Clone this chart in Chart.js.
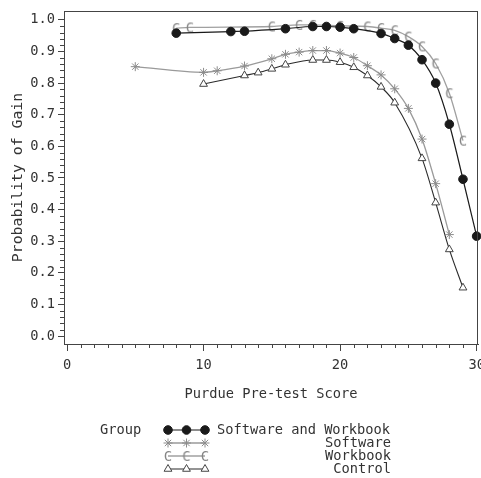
<!DOCTYPE html>
<html>
<head>
<meta charset="utf-8">
<script src="https://cdn.jsdelivr.net/npm/chart.js@4/dist/chart.umd.min.js"></script>
<style>
  body { margin: 0; background: #fff; }
  #wrap { width: 481px; height: 478px; }
</style>
</head>
<body>
<div id="wrap"><canvas id="myChart" width="481" height="478"></canvas></div>
<script>
// values
var groupNames = ["Software and Workbook", "Software", "Workbook", "Control"];

var swwX = [8, 12, 13, 16, 18, 19, 20, 21, 23, 24, 25, 26, 27, 28, 29, 30];
var swwY = [0.958, 0.963, 0.964, 0.972, 0.979, 0.979, 0.977, 0.972, 0.957, 0.941, 0.920, 0.874, 0.800, 0.670, 0.496, 0.316];

var swX = [5, 10, 11, 13, 15, 16, 17, 18, 19, 20, 21, 22, 23, 24, 25, 26, 27, 28];
var swY = [0.852, 0.834, 0.839, 0.854, 0.877, 0.891, 0.898, 0.903, 0.903, 0.895, 0.881, 0.855, 0.826, 0.782, 0.720, 0.623, 0.482, 0.321];

var wbX = [8, 9, 15, 17, 18, 20, 22, 23, 24, 25, 26, 27, 28, 29];
var wbY = [0.974, 0.976, 0.979, 0.984, 0.984, 0.981, 0.979, 0.974, 0.967, 0.947, 0.916, 0.862, 0.768, 0.618];

var ctX = [10, 13, 14, 15, 16, 18, 19, 20, 21, 22, 23, 24, 26, 27, 28, 29];
var ctY = [0.797, 0.824, 0.833, 0.845, 0.858, 0.873, 0.873, 0.866, 0.850, 0.824, 0.788, 0.738, 0.562, 0.422, 0.274, 0.153];

var xTicks = [0, 10, 20, 30];
var yTicks = [0, 0.1, 0.2, 0.3, 0.4, 0.5, 0.6, 0.7, 0.8, 0.9, 1.0];

var FONT = '"DejaVu Sans Mono", "Liberation Mono", monospace';
var TXT = '#333';
var AXIS = '#444';

// pairs x and y arrays into points
function pts(xs, ys) {
    var out = [];
    for (var i = 0; i < xs.length; i++) {
        out.push({ x: xs[i], y: ys[i] });
    }
    return out;
}

// the "C" plot symbol used for the Workbook group
var cMark = document.createElement('canvas');
cMark.width = 12;
cMark.height = 14;
var cc = cMark.getContext('2d');
cc.font = '14px ' + FONT;
cc.fillStyle = '#858585';
cc.textAlign = 'center';
cc.textBaseline = 'middle';
cc.fillText('C', 6, 8.5);

// frame, minor ticks and the group legend
var extras = {
    id: 'extras',
    afterDraw: function (chart) {
        var ctx = chart.ctx;
        var a = chart.chartArea;
        var xs = chart.scales.x, ys = chart.scales.y;
        ctx.save();
        ctx.strokeStyle = AXIS;
        ctx.lineWidth = 1;
        ctx.strokeRect(a.left + 0.5, a.top + 0.5, a.right - a.left - 1, a.bottom - a.top);
        // minor ticks
        ctx.beginPath();
        for (var i = 0; i <= 30; i++) {
            if (i % 10 == 0) continue;
            var px = Math.round(xs.getPixelForValue(i)) + 0.5;
            ctx.moveTo(px, a.bottom);
            ctx.lineTo(px, a.bottom + 4);
        }
        for (var j = 0; j <= 50; j++) {
            if (j % 5 == 0) continue;
            var py = Math.round(ys.getPixelForValue(j / 50)) + 0.5;
            ctx.moveTo(a.left, py);
            ctx.lineTo(a.left - 4, py);
        }
        ctx.stroke();

        // legend
        var rows = [430, 443, 456, 469];
        ctx.font = '13.7px ' + FONT;
        ctx.fillStyle = TXT;
        ctx.textBaseline = 'middle';
        ctx.textAlign = 'left';
        ctx.fillText('Group', 100, rows[0]);
        chart.data.datasets.forEach(function (ds, k) {
            var y = rows[k];
            ctx.strokeStyle = ds.borderColor;
            ctx.lineWidth = ds.borderWidth;
            ctx.beginPath();
            ctx.moveTo(168, y);
            ctx.lineTo(205, y);
            ctx.stroke();
            [168, 186.5, 205].forEach(function (mx) {
                ctx.fillStyle = ds.pointBackgroundColor;
                ctx.strokeStyle = ds.pointBorderColor;
                ctx.lineWidth = ds.pointBorderWidth;
                Chart.helpers.drawPoint(ctx, {
                    pointStyle: ds.pointStyle, radius: ds.pointRadius,
                    rotation: 0, borderWidth: ds.pointBorderWidth
                }, mx, y);
            });
            ctx.fillStyle = TXT;
            if (k == 0) {
                ctx.textAlign = 'left';
                ctx.fillText(ds.label, 217, y);
            } else {
                ctx.textAlign = 'right';
                ctx.fillText(ds.label, 391, y);
            }
        });
        ctx.restore();
    }
};

const data = {
    datasets: [{
        label: groupNames[0],
        data: pts(swwX, swwY),
        borderColor: '#1a1a1a',
        borderWidth: 1.2,
        pointStyle: 'circle',
        pointRadius: 4.3,
        pointBackgroundColor: '#1a1a1a',
        pointBorderColor: '#1a1a1a',
        pointBorderWidth: 1
    }, {
        label: groupNames[1],
        data: pts(swX, swY),
        borderColor: '#9a9a9a',
        borderWidth: 1.3,
        pointStyle: 'star',
        pointRadius: 4.5,
        pointBackgroundColor: '#8c8c8c',
        pointBorderColor: '#8c8c8c',
        pointBorderWidth: 1
    }, {
        label: groupNames[2],
        data: pts(wbX, wbY),
        borderColor: '#a0a0a0',
        borderWidth: 1.3,
        pointStyle: cMark,
        pointRadius: 5,
        pointBackgroundColor: '#8c8c8c',
        pointBorderColor: '#8c8c8c',
        pointBorderWidth: 1
    }, {
        label: groupNames[3],
        data: pts(ctX, ctY),
        borderColor: '#2a2a2a',
        borderWidth: 1.1,
        pointStyle: 'triangle',
        pointRadius: 4.5,
        pointBackgroundColor: '#ffffff',
        pointBorderColor: '#444',
        pointBorderWidth: 1
    }]
};

const config = {
    type: 'line',
    data,
    plugins: [extras],
    options: {
        responsive: false,
        animation: false,
        layout: { autoPadding: false, padding: { top: 11, right: 3, left: 0, bottom: 0 } },
        plugins: { legend: { display: false }, tooltip: { enabled: false } },
        elements: { line: { cubicInterpolationMode: 'monotone' } },
        datasets: { line: { clip: false } },
        scales: {
            x: {
                type: 'linear',
                min: -0.22,
                max: 30.1,
                afterBuildTicks: function (s) { s.ticks = xTicks.map(function (v) { return { value: v }; }); },
                afterFit: function (s) { s.height = 134; s.paddingLeft = 0; s.paddingRight = 0; },
                grid: { drawOnChartArea: false, tickLength: 7, color: AXIS },
                border: { display: true, color: AXIS },
                ticks: {
                    color: TXT, padding: 6, maxRotation: 0,
                    font: { family: FONT, size: 13.7 },
                    callback: function (v) { return String(v); }
                },
                title: {
                    display: true, text: 'Purdue Pre-test Score', color: TXT,
                    font: { family: FONT, size: 13.7 },
                    padding: { top: 4, bottom: 75 }
                }
            },
            y: {
                type: 'linear',
                min: -0.025,
                max: 1.028,
                afterBuildTicks: function (s) { s.ticks = yTicks.map(function (v) { return { value: v }; }); },
                afterFit: function (s) { s.width = 64; s.paddingTop = 0; s.paddingBottom = 0; },
                grid: { drawOnChartArea: false, tickLength: 6, color: AXIS },
                border: { display: true, color: AXIS },
                ticks: {
                    color: TXT, padding: 3,
                    font: { family: FONT, size: 13.7 },
                    callback: function (v) { return v.toFixed(1); }
                },
                title: {
                    display: true, text: 'Probability of Gain', color: TXT,
                    font: { family: FONT, size: 14.8 },
                    padding: { top: 9, bottom: 0 }
                }
            }
        }
    }
};

var myChart = new Chart(document.getElementById('myChart'), config);
</script>
</body>
</html>
